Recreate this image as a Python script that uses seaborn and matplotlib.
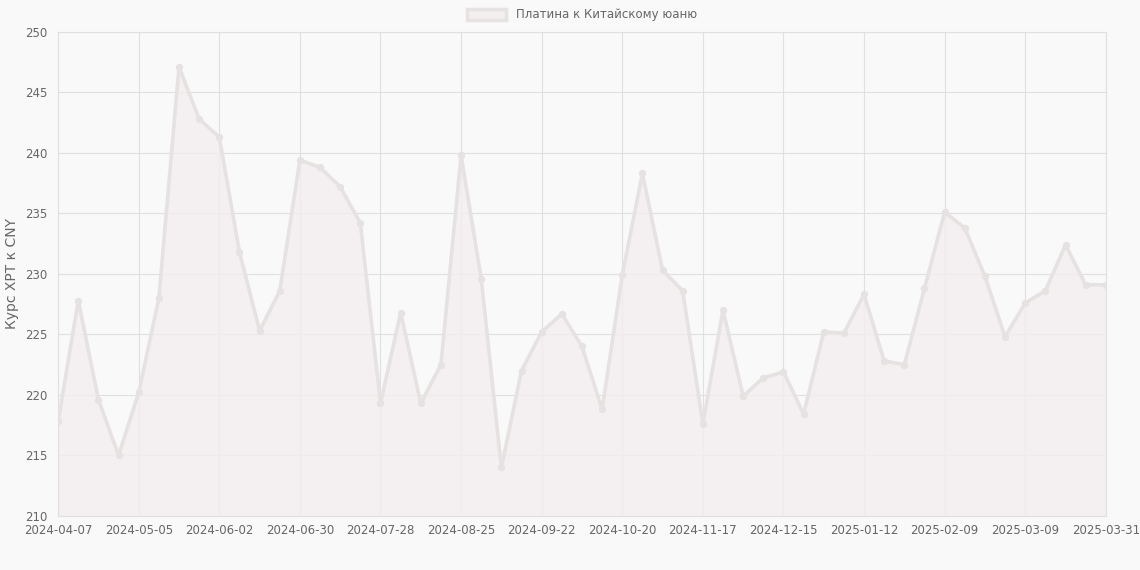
import matplotlib
matplotlib.use("Agg")
import matplotlib.pyplot as plt
import matplotlib.patches as mpatches
import seaborn as sns
import pandas as pd

values = [217.8,227.8,219.6,215.0,220.2,228.0,247.1,242.8,241.3,231.8,225.3,228.6,239.4,238.8,237.2,234.2,
          219.3,226.8,219.3,222.5,239.8,229.6,214.0,222.0,225.2,226.7,224.0,218.8,229.9,238.3,230.3,228.6,
          217.6,227.0,219.9,221.4,221.9,218.4,225.2,225.1,228.3,222.8,222.5,228.8,235.1,233.8,229.8,224.8,
          227.6,228.6,232.4,229.1,229.1]
tick_labels = ["2024-04-07","2024-05-05","2024-06-02","2024-06-30","2024-07-28","2024-08-25","2024-09-22",
               "2024-10-20","2024-11-17","2024-12-15","2025-01-12","2025-02-09","2025-03-09","2025-03-31"]
series_name = "Платина к Китайскому юаню"

sns.set_style("white")
plt.rcParams['font.family'] = ['DejaVu Sans']
df = pd.DataFrame({"i": range(len(values)), "v": values})

fig = plt.figure(figsize=(11.4, 5.7), dpi=100, facecolor="#f9f9f9")
ax = fig.add_axes([0.051, 0.095, 0.919, 0.849])
ax.set_facecolor("#f9f9f9")
lc = "#e6e2e2"
ax.fill_between(df["i"], df["v"], 210, color="#f3eeef", alpha=0.8, zorder=1)
sns.lineplot(data=df, x="i", y="v", ax=ax, color=lc, linewidth=2.6, marker="o", markersize=4.5,
             markeredgecolor=lc, zorder=3, legend=False)
ax.set_xlim(0, len(values) - 1)
ax.set_ylim(210, 250)
ax.set_yticks(range(210, 251, 5))
pos = list(range(0, 49, 4)) + [52]
ax.set_xticks(pos)
ax.set_xticklabels(tick_labels)
ax.grid(True, color="#e0e0e0", linewidth=0.8)
for s in ax.spines.values():
    s.set_color("#e0e0e0")
ax.tick_params(axis="x", labelsize=8.5, colors="#666666", length=0, pad=6)
ax.tick_params(axis="y", labelsize=8.5, colors="#666666", length=0, pad=8)
ax.set_xlabel("")
ax.set_ylabel("Курс XPT к CNY", fontsize=10, color="#666666")
handle = mpatches.Patch(facecolor="#f3eeef", edgecolor=lc, linewidth=2.5, label=series_name)
leg = ax.legend(handles=[handle], loc="lower center", bbox_to_anchor=(0.5, 1.0), frameon=False,
                fontsize=8.5, handlelength=3.3, handleheight=1)
for t in leg.get_texts():
    t.set_color("#666666")
fig.savefig("out.png", facecolor=fig.get_facecolor())
